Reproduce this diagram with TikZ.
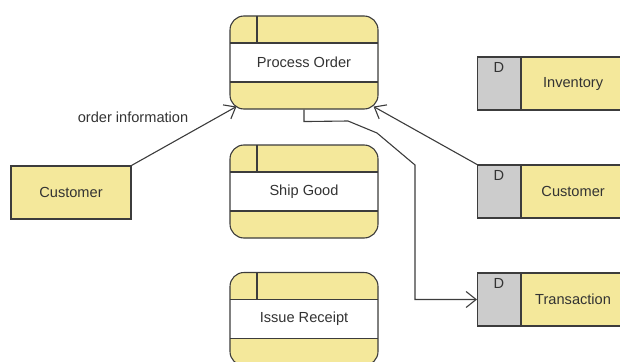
\documentclass[tikz,border=0pt]{standalone}
\usepackage{fontspec}
\setmainfont{Liberation Sans}
\usetikzlibrary{arrows.meta,positioning}

\definecolor{dfdyellow}{RGB}{244,232,155}
\definecolor{dfdgray}{RGB}{204,204,204}
\definecolor{dfdline}{RGB}{60,60,60}
\definecolor{dfdtext}{RGB}{51,51,51}

\tikzset{
	process/.style={draw=dfdline, line width=1.1pt, fill=dfdyellow, rounded corners=14pt,
		minimum width=148pt, minimum height=93pt, inner sep=0pt, text=dfdtext,
		path picture={
			\fill[white, sharp corners] ([yshift=-27pt]path picture bounding box.north west) rectangle ([yshift=27pt]path picture bounding box.south east);
			\draw[dfdline, line width=1.1pt] ([yshift=-27pt]path picture bounding box.north west) -- ([yshift=-27pt]path picture bounding box.north east);
			\draw[dfdline, line width=1.1pt] ([yshift=27pt]path picture bounding box.south west) -- ([yshift=27pt]path picture bounding box.south east);
			\draw[dfdline, line width=1.1pt] ([xshift=27pt]path picture bounding box.north west) -- ([xshift=27pt,yshift=-27pt]path picture bounding box.north west);
		}},
	entity/.style={draw=dfdline, line width=1.1pt, fill=dfdyellow, minimum width=120pt, minimum height=53pt, text=dfdtext},
	storeid/.style={draw=dfdline, line width=1.1pt, fill=dfdgray, minimum width=43pt, minimum height=53pt,
		label={[anchor=north, yshift=-3pt, inner sep=3pt, text=dfdtext]north:D}},
	storename/.style={draw=dfdline, line width=1.1pt, fill=dfdyellow, minimum width=103pt, minimum height=53pt, text=dfdtext},
	flow/.style={draw=dfdline, line width=1.1pt, -{Straight Barb[length=10pt,width=16pt]}},
}

\begin{document}
\begin{tikzpicture}[x=1pt, y=-1pt, font=\fontsize{14.6}{16}\selectfont]
	\useasboundingbox (0,0) rectangle (620,361);

	\node[process] (po) at (304,62.5) {Process Order};
	\node[process] (sg) at (304,191.5) {Ship Good};
	\node[process] (ir) at (304,319) {Issue Receipt};

	\node[entity] (cust) at (71,192.5) {Customer};

	\node[storeid] (invid) at (499,83.5) {};
	\node[storename, right=0pt of invid] (inv) {Inventory};
	\node[storeid] (csid) at (499,191.5) {};
	\node[storename, right=0pt of csid] (cs) {Customer};
	\node[storeid] (trid) at (499,299.5) {};
	\node[storename, right=0pt of trid] (tr) {Transaction};

	\draw[flow] (cust.north east) -- ([xshift=7pt,yshift=3pt]po.south west);
	\node[text=dfdtext] (oi) at (133,117) {order information};
	\draw[flow] (csid.north west) -- ([xshift=-5pt,yshift=3pt]po.south east);
	\draw[flow] (po.south) -- ++(0,12) -- (348,121) -- (377,133) -- (415,165) |- (trid.west);
\end{tikzpicture}
\end{document}
